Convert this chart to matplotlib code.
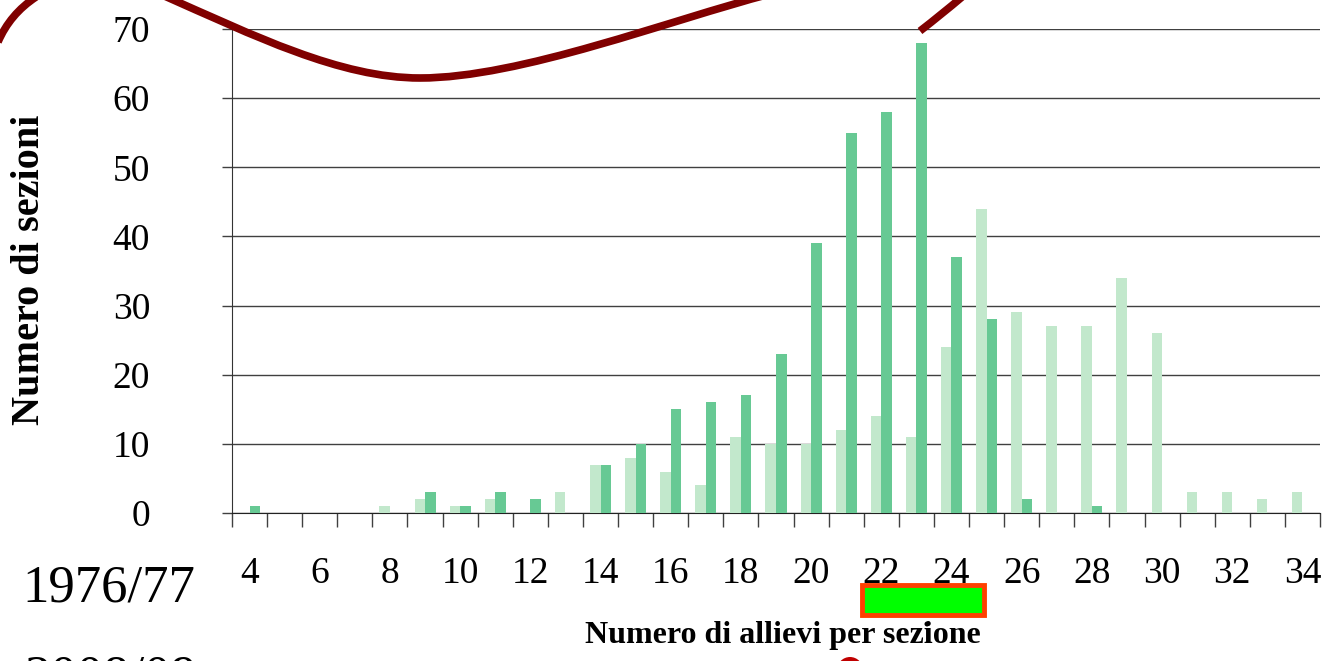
import numpy as np
import matplotlib
matplotlib.use("Agg")
from matplotlib import pyplot as plt
from matplotlib.path import Path
from matplotlib.patches import PathPatch, Rectangle, Ellipse

# data
classi = list(range(4, 35))
sezioni_1976 = [0, 0, 0, 0, 1, 2, 1, 2, 0, 3, 7, 8, 6, 4, 11, 10, 10, 12, 14, 11,
                24, 44, 29, 27, 27, 34, 26, 3, 3, 2, 3]
sezioni_2008 = [1, 0, 0, 0, 0, 3, 1, 3, 2, 0, 7, 10, 15, 16, 17, 23, 39, 55, 58, 68,
                37, 28, 2, 0, 1, 0, 0, 0, 0, 0, 0]
y_ticks = [0, 10, 20, 30, 40, 50, 60, 70]
etichette_x = [str(c) if c % 2 == 0 else "" for c in classi]

col_1976 = "#c2e8cc"
col_2008 = "#67c994"
serif = ["Liberation Serif", "DejaVu Serif"]

W, H = 1339, 661


def fx(px):
    return px / W


def fy(py):
    return 1 - py / H


plt.rcParams["font.family"] = serif
fig = plt.figure(figsize=(W / 100, H / 100), dpi=100)
ax = fig.add_axes([fx(232), fy(513), fx(1320) - fx(232), fy(29) - fy(513)])

x = np.arange(len(classi))
w = 0.3
ax.bar(x - w / 2, sezioni_1976, width=w, color=col_1976, edgecolor="none", zorder=3)
ax.bar(x + w / 2, sezioni_2008, width=w, color=col_2008, edgecolor="none", zorder=3)

ax.set_xlim(-0.5, len(classi) - 0.5)
ax.set_ylim(0, 70)
ax.set_yticks(y_ticks)
ax.set_yticklabels([str(v) for v in y_ticks], fontsize=27)
ax.yaxis.grid(True, color="#404040", linewidth=1.0, zorder=0)
ax.set_axisbelow(True)

ax.set_xticks(x)
ax.set_xticklabels(etichette_x, fontsize=27)
ax.set_xticks(np.arange(-0.5, len(classi)), minor=True)
ax.tick_params(axis="x", which="major", length=0, pad=31)
ax.tick_params(axis="x", which="minor", length=10, width=1, color="#404040")
ax.tick_params(axis="y", length=7, width=1, pad=52, color="#404040")

for s in ["top", "right"]:
    ax.spines[s].set_visible(False)
ax.spines["left"].set_color("#333333")
ax.spines["bottom"].set_color("#222222")

fig.text(fx(30), fy(270), "Numero di sezioni", rotation=90, ha="center", va="center",
         fontsize=29, fontweight="bold")
fig.text(fx(783), fy(636), "Numero di allievi per sezione", ha="center", va="center",
         fontsize=23, fontweight="bold")
fig.text(fx(22), fy(588), "1976/77", ha="left", va="center", fontsize=38)
fig.text(fx(25), fy(654), "2008/09", ha="left", va="top", fontsize=38)

# green box under the axis
fig.patches.append(Rectangle((fx(862), fy(615)), fx(984) - fx(862), fy(585) - fy(615),
                             transform=fig.transFigure, facecolor="#00ff00",
                             edgecolor="#ff4000", linewidth=3.5, zorder=5))
fig.patches.append(Ellipse((fx(850), fy(670)), fx(26), fy(0) - fy(26),
                           transform=fig.transFigure, facecolor="#c00000",
                           edgecolor="none"))
fig.patches.append(Ellipse((fx(927), fy(624)), fx(5), fy(0) - fy(5),
                           transform=fig.transFigure, facecolor="black",
                           edgecolor="none"))

# hand-drawn red strokes
rosso = "#800000"
curve = [
    ([(160, -6), (255, 36), (340, 78), (420, 78), (520, 78), (670, 20), (770, -6)],
     [Path.MOVETO] + [Path.CURVE4] * 6),
    ([(-2, 42), (10, 14), (36, -3)], [Path.MOVETO, Path.CURVE3, Path.CURVE3]),
    ([(920, 31), (942, 14), (962, -3)], [Path.MOVETO, Path.CURVE3, Path.CURVE3]),
]
for pts, codes in curve:
    verts = [(fx(a), fy(b)) for a, b in pts]
    fig.patches.append(PathPatch(Path(verts, codes), transform=fig.transFigure,
                                 facecolor="none", edgecolor=rosso, linewidth=5.5,
                                 capstyle="butt", zorder=6))

fig.savefig("out.png", dpi=100)
